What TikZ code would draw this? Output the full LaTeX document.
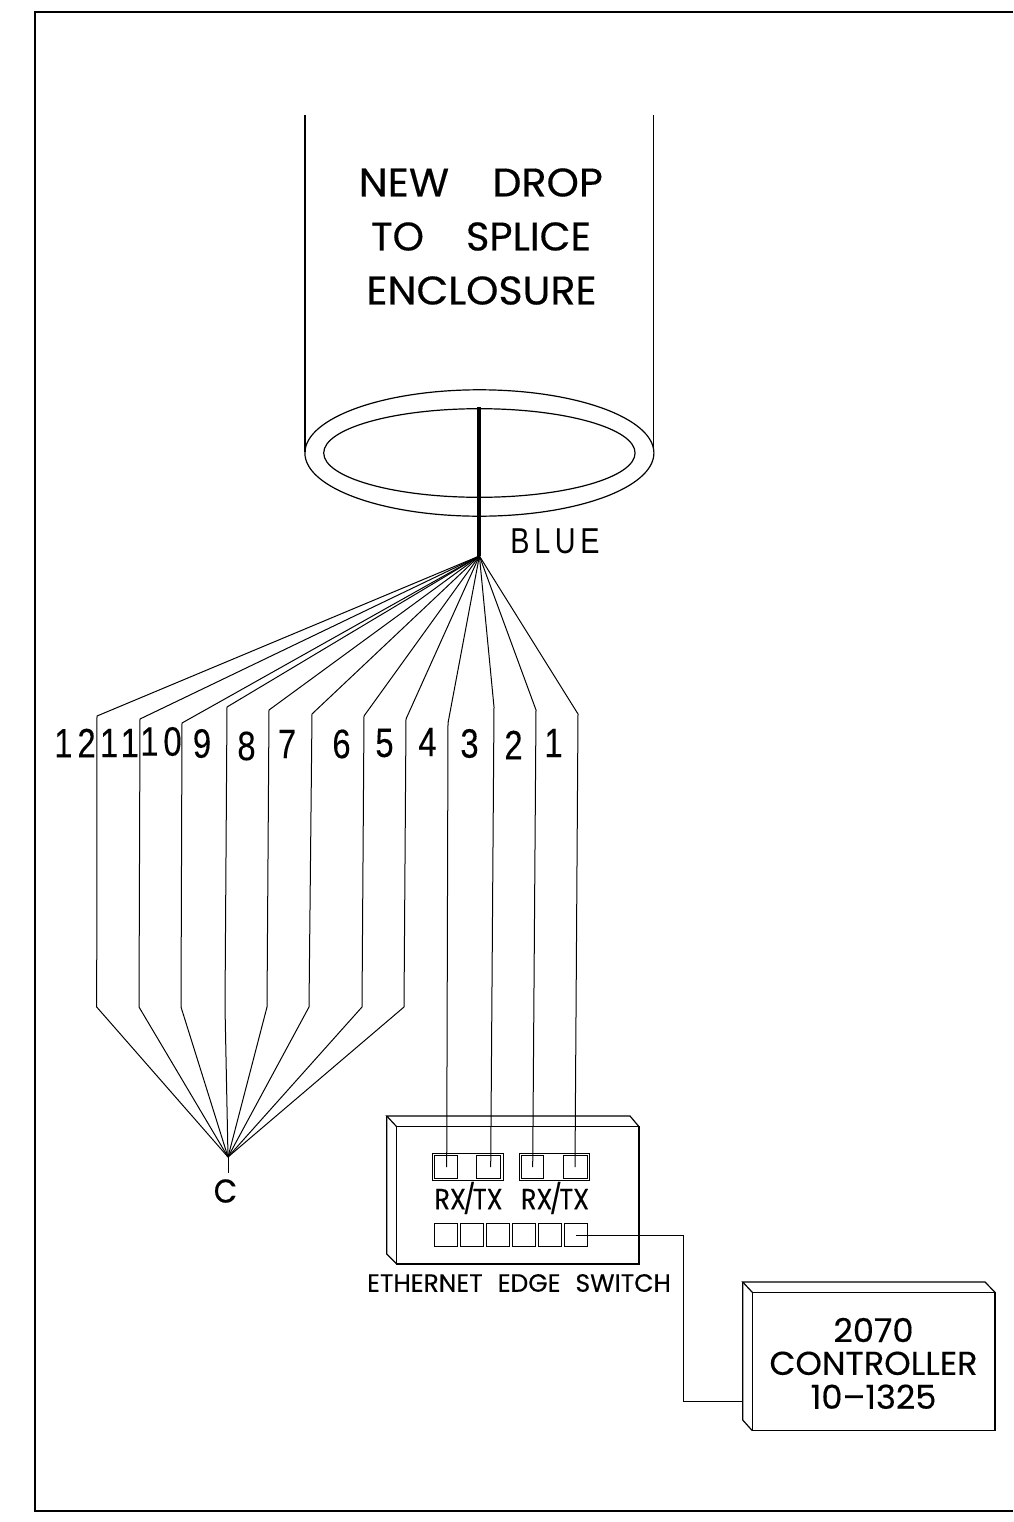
\documentclass[tikz,border=0pt]{standalone}
\usepackage{fontspec}
\setmainfont{Poppins}
\newfontfamily\gothic{Poppins}
\newfontfamily\numfont[FakeBold=0.2]{Liberation Sans}
\newfontfamily\numspaced[LetterSpace=15,FakeBold=0.2]{Liberation Sans}
\newfontfamily\bluefont[LetterSpace=16]{Liberation Sans}
\newcommand{\heavy}{\gothic\addfontfeature{FakeBold=0.35}}
\tikzset{
  frameline/.style={line width=2pt,black},
  thin wire/.style={line width=1pt,black,line join=miter},
  body/.style={line width=1.2pt,black,line join=miter},
  portbox/.style={line width=0.9pt,black,line join=miter},
  numlabel/.style={inner sep=0pt,font=\fontsize{41}{41}\numfont,xscale=.8,transform shape},
  numpair/.style={inner sep=0pt,font=\fontsize{41}{41}\numspaced,xscale=.8,transform shape},
  bigtext/.style={inner sep=0pt,font=\fontsize{40}{40}\heavy,xscale=1.03,transform shape},
  ctrltext/.style={inner sep=0pt,font=\fontsize{33}{33}\heavy,xscale=1.02,transform shape},
  rxtext/.style={inner sep=0pt,font=\fontsize{29}{29}\heavy,xscale=.88,transform shape},
  smalltext/.style={inner sep=0pt,font=\fontsize{25}{25}\heavy,xscale=1,transform shape},
}
\begin{document}
\begin{tikzpicture}[x=1pt,y=-1pt]
\useasboundingbox (0,0) rectangle (1013,1522);
\fill[white] (0,0) rectangle (1013,1522);
% frame
\draw[frameline] (1013,12.3) -- (35,12.3) -- (35,1511) -- (1013,1511);
% cylinder
\coordinate (cylLtop) at (305,115);
\coordinate (cylLbot) at (305,452);
\coordinate (cylRtop) at (653.7,115);
\coordinate (cylRbot) at (653.7,452);
\draw[body] (cylLtop) -- (cylLbot);
\draw[body] (cylRtop) -- (cylRbot);
\draw[body] (479.4,453) ellipse [x radius=174.5,y radius=63.2];
\draw[body] (479.4,453) ellipse [x radius=155.7,y radius=44.3];
\node[bigtext] (t1) at (480.8,182.5) {NEW\hspace{1.05em}DROP};
\node[bigtext,xscale=.97] (t2) at (481,236.5) {TO\hspace{1.05em}SPLICE};
\node[bigtext] (t3) at (481.5,290.5) {ENCLOSURE};
% blue trunk
\coordinate (trunktop) at (479.4,407);
\coordinate (fan) at (479.4,556);
\draw[line width=4pt] (trunktop) -- (fan);
\node[inner sep=0pt,font=\fontsize{36}{36}\bluefont,xscale=.8,transform shape] (blue) at (555,541) {BLUE};
% hub for common
\coordinate (hub) at (228,1157);
\coordinate (hubend) at (228,1173);
\draw[thin wire] (hub) -- (hubend);
\node[ctrltext,xscale=.9] (c) at (225.5,1191) {C};
% wires to common
\foreach \n/\xa/\ya/\xb in {12/97/716/96.7,11/140/719/139,10/182/723/181,9/227/707/225,8/269/710/267,7/312/714/309,6/364/716/362,5/406/719/404}{
  \coordinate (wa\n) at (\xa,\ya);
  \coordinate (wb\n) at (\xb,1007);
  \draw[thin wire] (fan) -- (wa\n) -- (wb\n) -- (hub);
}
% wires to switch
\foreach \n/\xa/\ya/\xb in {4/448/723/446.7,3/494/707/490.7,2/536/710/532.7,1/578/714/575}{
  \coordinate (wa\n) at (\xa,\ya);
  \coordinate (wb\n) at (\xb,1167);
  \draw[thin wire] (fan) -- (wa\n) -- (wb\n);
}
% number labels
\node[numpair] (n12) at (75,743) {12};
\node[numpair] (n11) at (119.5,743) {11};
\node[numpair] (n10) at (161,741.5) {10};
\node[numlabel] (n9) at (202,743.5) {9};
\node[numlabel] (n8) at (246.5,746) {8};
\node[numlabel] (n7) at (287,744) {7};
\node[numlabel] (n6) at (341.5,744) {6};
\node[numlabel] (n5) at (384.5,743) {5};
\node[numlabel] (n4) at (427.5,742) {4};
\node[numlabel] (n3) at (469.5,743.5) {3};
\node[numlabel] (n2) at (513.5,745) {2};
\node[numlabel] (n1) at (553.5,743) {1};
% switch
\draw[body] (396.7,1126.7) rectangle (639,1264);
\draw[body] (396.7,1126.7) -- (386.7,1116) -- (630,1116) -- (639,1126.7);
\draw[body] (386.7,1116) -- (386.7,1254) -- (396.7,1264);
\draw[portbox] (432,1153) rectangle (503,1180);
\draw[portbox] (519,1153) rectangle (589.5,1180);
\draw[portbox] (434.3,1155.7) rectangle (457,1178.3);
\draw[portbox] (476,1155.7) rectangle (500,1178.3);
\draw[portbox] (521,1155.7) rectangle (543.7,1178.3);
\draw[portbox] (563,1155.7) rectangle (587,1178.3);
\foreach \a/\b in {434.3/457,460.3/483,486.3/509,512.3/535,538.3/561,564.7/587.3}{
  \draw[portbox] (\a,1223.7) rectangle (\b,1246.3);
}
\node[rxtext] (rx1) at (468.5,1198) {RX\kern-.1em/\kern-.1em TX};
\node[rxtext] (rx2) at (555,1198) {RX\kern-.1em/\kern-.1em TX};
\node[smalltext] (sw) at (519,1283) {ETHERNET\hspace{.6em}EDGE\hspace{.6em}SWITCH};
% controller
\draw[body] (752.3,1292.3) rectangle (995,1430.7);
\draw[body] (752.3,1292.3) -- (742.7,1282) -- (985,1282) -- (995,1292.3);
\draw[body] (742.7,1282) -- (742.7,1420) -- (752.3,1430.7);
\node[ctrltext] (c1) at (873.5,1330) {2070};
\node[ctrltext] (c2) at (873.5,1363.3) {CONTROLLER};
\node[ctrltext] (c3) at (873.5,1396.7) {10–1325};
% cable
\coordinate (portout) at (576,1235);
\coordinate (bendA) at (683.5,1235);
\coordinate (bendB) at (683.5,1401.7);
\coordinate (ctrlin) at (742.7,1401.7);
\draw[thin wire] (portout) -- (bendA) -- (bendB) -- (ctrlin);
\end{tikzpicture}
\end{document}
